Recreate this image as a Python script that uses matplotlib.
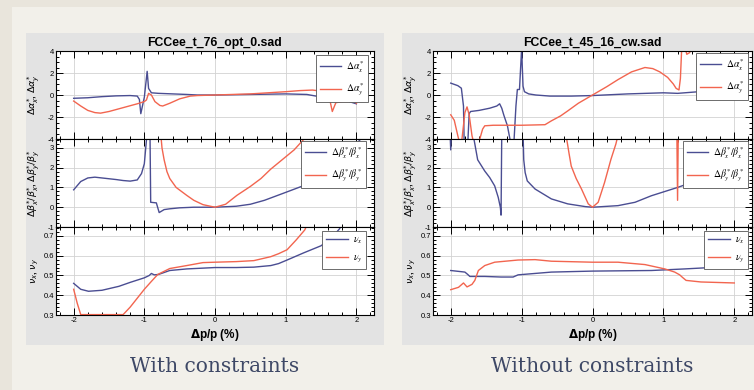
import matplotlib.pyplot as plt
import numpy as np
from matplotlib.font_manager import FontProperties
from matplotlib.patches import Rectangle
from matplotlib.ticker import AutoMinorLocator, MultipleLocator

nan = np.nan

# ---- left file: FCCee_t_76_opt_0.sad (with constraints) ----
L_AX_DP = [-2.0, -1.8, -1.6, -1.4, -1.2, -1.1, -1.07, -1.05, -1.0, -0.96, -0.94, -0.9,
           -0.8, -0.6, -0.4, -0.25, 0.0, 0.5, 1.0, 1.3, 1.43, 1.6, 1.71, 1.85, 2.0]
L_AX = [-0.3, -0.25, -0.15, -0.08, -0.05, -0.1, -0.4, -1.7, -0.2, 2.15, 0.6, 0.2,
        0.15, 0.1, 0.05, 0.0, 0.0, 0.05, 0.1, 0.05, -0.1, -0.2, -0.35, -0.5, -0.8]
L_AY_DP = [-2.0, -1.9, -1.8, -1.7, -1.62, -1.5, -1.3, -1.1, -1.0, -0.97, -0.94, -0.9,
           -0.85, -0.78, -0.74, -0.64, -0.5, -0.35, -0.25, 0.0, 0.5, 1.0, 1.2, 1.38,
           1.5, 1.57, 1.62, 1.66, 1.71, 1.8, 1.88, 1.93, 1.97, 2.0]
L_AY = [-0.55, -1.0, -1.4, -1.6, -1.65, -1.5, -1.15, -0.8, -0.6, -0.45, 0.15, 0.0,
        -0.6, -0.95, -1.0, -0.75, -0.35, -0.1, -0.05, 0.0, 0.1, 0.3, 0.4, 0.45,
        0.35, 0.15, -0.3, -1.5, -0.7, -0.6, -0.6, 2.1, -0.55, -0.75]

L_BX_DP = [-2.0, -1.9, -1.8, -1.7, -1.6, -1.4, -1.3, -1.2, -1.1, -1.04, -1.0, -0.98,
           -0.96, -0.92, -0.91, -0.83, -0.79, -0.72, -0.64, -0.5, -0.3, 0.0, 0.3,
           0.5, 0.7, 1.0, 1.26, 1.5, 1.7, 1.85, 2.0, 2.1]
L_BX = [0.88, 1.3, 1.48, 1.52, 1.48, 1.4, 1.35, 1.32, 1.38, 1.7, 2.2, 3.0,
        3.8, 3.8, 0.25, 0.22, -0.27, -0.12, -0.08, -0.03, 0.0, 0.0, 0.05,
        0.15, 0.35, 0.75, 1.1, 1.6, 2.1, 2.6, 3.2, 3.6]
L_BY_DP = [-0.77, -0.75, -0.72, -0.68, -0.64, -0.55, -0.4, -0.3, -0.17, 0.0, 0.15,
           0.31, 0.5, 0.65, 0.79, 0.95, 1.12, 1.26, 1.32]
L_BY = [3.8, 3.0, 2.4, 1.8, 1.45, 1.0, 0.6, 0.35, 0.13, 0.0, 0.15,
        0.6, 1.05, 1.45, 1.93, 2.4, 2.9, 3.45, 3.8]

L_NX_DP = [-2.0, -1.9, -1.79, -1.6, -1.36, -1.2, -1.0, -0.93, -0.9, -0.86, -0.8, -0.64,
           -0.4, -0.17, 0.0, 0.3, 0.55, 0.79, 0.9, 1.02, 1.26, 1.5, 1.65, 1.76, 1.82]
L_NX = [0.46, 0.43, 0.42, 0.425, 0.445, 0.465, 0.488, 0.5, 0.51, 0.503, 0.505, 0.525,
        0.533, 0.537, 0.54, 0.54, 0.542, 0.55, 0.56, 0.578, 0.615, 0.65, 0.69, 0.735, 0.77]
L_NY_DP = [-2.0, -1.95, -1.9, -1.3, -1.2, -1.0, -0.9, -0.81, -0.64, -0.4, -0.17, 0.0,
           0.3, 0.55, 0.79, 0.9, 1.02, 1.15, 1.27, 1.32]
L_NY = [0.43, 0.36, 0.302, 0.302, 0.34, 0.43, 0.47, 0.505, 0.535, 0.55, 0.565, 0.567,
        0.57, 0.575, 0.595, 0.61, 0.63, 0.68, 0.73, 0.77]

# ---- right file: FCCee_t_45_16_cw.sad (without constraints) ----
R_AX_DP = [-2.0, -1.9, -1.85, -1.82, -1.81, -1.76, -1.74, -1.72, -1.6, -1.45, -1.35,
           -1.31, -1.28, -1.25, -1.2, -1.15, -1.11, -1.08, -1.06, -1.03, -1.0, -0.98,
           -0.96, -0.9, -0.8, -0.6, -0.3, 0.0, 0.5, 1.0, 1.2, 1.5, 1.8, 2.0]
R_AX = [1.08, 0.85, 0.62, -1.0, -4.5, -4.5, -1.7, -1.5, -1.4, -1.2, -1.0,
        -0.8, -1.2, -1.85, -2.8, -4.5, -4.5, -1.0, 0.5, 0.5, 4.2, 0.8,
        0.3, 0.1, 0.0, -0.1, -0.1, -0.05, 0.1, 0.2, 0.15, 0.3, 0.4, 0.48]
R_AY_DP = [-2.0, -1.95, -1.9, -1.87, -1.85, -1.8, -1.77, -1.74, -1.7, -1.67, -1.62,
           -1.59, -1.55, -1.52, -1.4, -1.0, -0.67, -0.58, -0.45, -0.35, -0.2, 0.0,
           0.2, 0.36, 0.55, 0.74, 0.85, 0.95, 1.06, 1.14, 1.18, 1.22, 1.24, 1.26,
           1.3, 1.33, 1.37, 1.41, 1.45]
R_AY = [-1.8, -2.3, -3.7, -4.5, -4.5, -1.6, -1.08, -1.8, -3.7, -4.5, -4.5,
        -4.0, -3.1, -2.8, -2.75, -2.75, -2.7, -2.35, -1.9, -1.45, -0.75, 0.0,
        0.75, 1.4, 2.1, 2.5, 2.4, 2.1, 1.6, 1.0, 0.6, 0.46, 1.5, 4.5,
        4.5, 3.7, 3.85, 4.5, 4.5]

R_BX_DP = [-2.01, -2.0, -1.99, -1.69, -1.66, -1.62, -1.52, -1.45, -1.38, -1.33, -1.3,
           -1.29, -1.28, -0.98, -0.97, -0.95, -0.92, -0.81, -0.58, -0.35, -0.1, 0.0,
           0.36, 0.6, 0.83, 1.2, 1.53, 1.77, 2.0, 2.2]
R_BX = [3.8, 2.9, 3.8, 3.8, 3.2, 2.4, 1.83, 1.5, 1.08, 0.5, 0.0,
        -0.4, 3.8, 3.8, 2.4, 1.75, 1.33, 0.92, 0.42, 0.17, 0.03, 0.0,
        0.08, 0.25, 0.58, 1.0, 1.42, 1.83, 2.25, 2.7]
R_BY_DP = [-0.38, -0.33, -0.3, -0.23, -0.155, -0.06, 0.0, 0.08, 0.17, 0.26, 0.33, 0.37,
           nan, 1.19, 1.2, 1.21]
R_BY = [3.8, 2.7, 2.08, 1.45, 0.92, 0.17, 0.0, 0.25, 1.25, 2.42, 3.2, 3.8,
        nan, 3.8, 0.35, 3.8]

R_NX_DP = [-2.0, -1.8, -1.76, -1.73, -1.52, -1.29, -1.12, -1.05, -0.58, 0.0, 0.83,
           1.3, 1.77, 2.0]
R_NX = [0.525, 0.517, 0.505, 0.495, 0.495, 0.492, 0.492, 0.503, 0.517, 0.522, 0.525,
        0.533, 0.542, 0.555]
R_NY_DP = [-2.0, -1.89, -1.82, -1.77, -1.7, -1.66, -1.61, -1.52, -1.38, -1.05, -0.81,
           -0.58, 0.0, 0.36, 0.74, 1.02, 1.16, 1.23, 1.27, 1.32, 1.53, 2.0]
R_NY = [0.428, 0.44, 0.462, 0.442, 0.455, 0.475, 0.525, 0.55, 0.567, 0.578, 0.58,
        0.572, 0.567, 0.567, 0.555, 0.533, 0.517, 0.503, 0.49, 0.475, 0.467, 0.462]

TITLES = ["FCCee_t_76_opt_0.sad", "FCCee_t_45_16_cw.sad"]
CAPTIONS = ["With constraints", "Without constraints"]
XLABEL = r"$\mathbf{\Delta}$p/p (%)"
YLABELS = [r"$\Delta\alpha^{*}_{x}$, $\Delta\alpha^{*}_{y}$",
           r"$\Delta\beta^{*}_{x}/\beta^{*}_{x}$, $\Delta\beta^{*}_{y}/\beta^{*}_{y}$",
           r"$\nu_{x}$, $\nu_{y}$"]
LEGENDS = [[r"$\Delta\alpha^{*}_{x}$", r"$\Delta\alpha^{*}_{y}$"],
           [r"$\Delta\beta^{*}_{x}/\beta^{*}_{x}$", r"$\Delta\beta^{*}_{y}/\beta^{*}_{y}$"],
           [r"$\nu_{x}$", r"$\nu_{y}$"]]

BLUE = "#4a4d92"
RED = "#f2654f"

plt.rcParams["axes.unicode_minus"] = False
plt.rcParams["font.family"] = ["Liberation Sans", "DejaVu Sans"]

W, H = 754, 390
fig = plt.figure(figsize=(W / 100, H / 100), dpi=100)
fig.patch.set_facecolor("#e9e5dc")


def box(x0, y0, x1, y1):
    return [x0 / W, 1 - y1 / H, (x1 - x0) / W, (y1 - y0) / H]


def rect(x0, y0, x1, y1, color):
    b = box(x0, y0, x1, y1)
    fig.add_artist(Rectangle((b[0], b[1]), b[2], b[3], transform=fig.transFigure,
                             facecolor=color, edgecolor="none", zorder=0))


rect(12, 7, W, H, "#f2f0ea")
rect(26, 33, 384, 345, "#e3e3e3")
rect(402, 33, W, 345, "#e3e3e3")

ROW_Y = [(51, 139), (139, 227), (227, 315)]
YLIMS = [(-4, 4), (-1, 3.45), (0.3, 0.745)]
YMAJOR = [2, 1, 0.1]
YMINOR = [4, 5, 5]
LEG_FONT = FontProperties(family="Liberation Serif", size=7, math_fontfamily="stix")


def panel(x0, x1, title, caption, curves, leg_pos):
    axes = []
    for i, (ya, yb) in enumerate(ROW_Y):
        ax = fig.add_axes(box(x0, ya, x1, yb))
        ax.set_facecolor("white")
        bx, by, rx, ry = curves[i]
        lb, = ax.plot(bx, by, color=BLUE, lw=1.0)
        lr, = ax.plot(rx, ry, color=RED, lw=1.0)
        ax.set_xlim(-2.25, 2.25)
        ax.set_ylim(*YLIMS[i])
        ax.xaxis.set_major_locator(MultipleLocator(1))
        ax.xaxis.set_minor_locator(AutoMinorLocator(5))
        ax.yaxis.set_major_locator(MultipleLocator(YMAJOR[i]))
        ax.yaxis.set_minor_locator(AutoMinorLocator(YMINOR[i]))
        ax.grid(True, which="major", color="#d2d2d2", lw=0.6)
        ax.set_axisbelow(True)
        ax.tick_params(which="both", direction="in", top=True, right=True,
                       labelsize=5.5, pad=1.5, width=0.7)
        ax.tick_params(which="major", length=5)
        ax.tick_params(which="minor", length=2.5)
        if i < 2:
            ax.tick_params(labelbottom=False)
        for s in ax.spines.values():
            s.set_linewidth(0.8)
        ax.set_ylabel(YLABELS[i], fontsize=6.8, fontweight="bold")
        ax.yaxis.set_label_coords(-15 / (x1 - x0), 0.5)
        rx_px, ty_px = leg_pos[i]
        ax.legend([lb, lr], LEGENDS[i], loc="upper right",
                  bbox_to_anchor=((rx_px - x0) / (x1 - x0), 1 - (ty_px - ya) / (yb - ya)),
                  borderaxespad=0, prop=LEG_FONT, fancybox=False, framealpha=1,
                  edgecolor="#555555", handlelength=2.2, handletextpad=0.5,
                  borderpad=0.4, labelspacing=0.7)
        ax.get_legend().get_frame().set_linewidth(0.6)
        axes.append(ax)
    axes[-1].set_xlabel(XLABEL, fontsize=8.5, fontweight="bold", labelpad=2)
    fig.text((x0 + x1) / 2 / W, 1 - 43 / H, title, ha="center", va="center",
             fontsize=8.8, fontweight="bold")
    fig.text((x0 + x1) / 2 / W, 1 - 367 / H, caption, ha="center", va="center",
             fontsize=14.5, family="DejaVu Serif", color="#3e4866")


panel(56, 374, TITLES[0], CAPTIONS[0],
      [(L_AX_DP, L_AX, L_AY_DP, L_AY),
       (L_BX_DP, L_BX, L_BY_DP, L_BY),
       (L_NX_DP, L_NX, L_NY_DP, L_NY)],
      [(368, 55), (366, 141), (366, 231)])
panel(433, 752, TITLES[1], CAPTIONS[1],
      [(R_AX_DP, R_AX, R_AY_DP, R_AY),
       (R_BX_DP, R_BX, R_BY_DP, R_BY),
       (R_NX_DP, R_NX, R_NY_DP, R_NY)],
      [(748, 53), (748, 141), (748, 231)])

fig.savefig("out.png", dpi=100, facecolor=fig.get_facecolor())
